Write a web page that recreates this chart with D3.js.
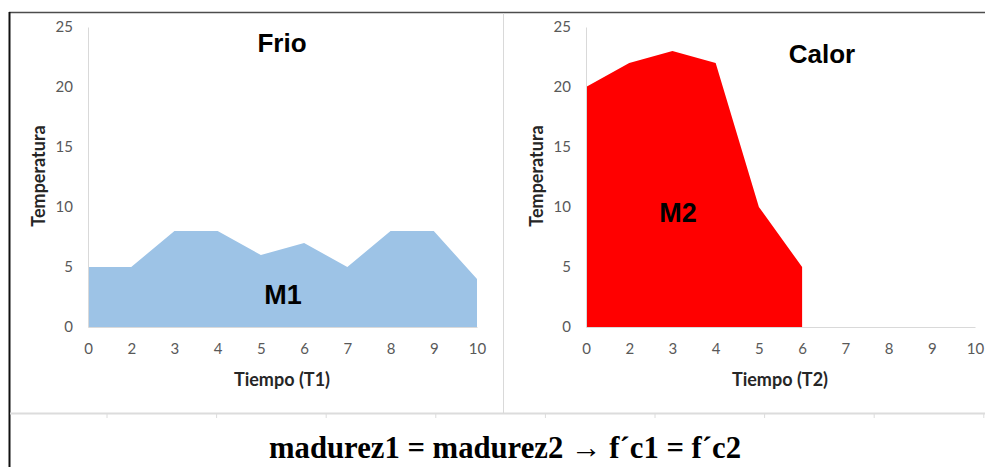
<!DOCTYPE html>
<html>
<head>
<meta charset="utf-8">
<script src="https://cdn.jsdelivr.net/npm/d3@7"></script>
<style>
  body { margin: 0; background: #fff; }
  .tick text { font-family: Lato, "Open Sans", sans-serif; font-size: 15px; fill: #595959; }
  .axtitle { font-family: Lato, "Open Sans", sans-serif; font-size: 18px; font-weight: bold; fill: #262626; }
  .big { font-family: "Liberation Sans", Arial, sans-serif; font-weight: bold; fill: #000; }
</style>
</head>
<body>
<script>
// datos
var tiempo = ['0', '2', '3', '4', '5', '6', '7', '8', '9', '10'];
var tempFrio = [5, 5, 8, 8, 6, 7, 5, 8, 8, 4];
var tempCalor = [20, 22, 23, 22, 10, 5, null, null, null, null];
var yTicks = [0, 5, 10, 15, 20, 25];
var formula = 'madurez1 = madurez2  \u2192 f\u00b4c1 = f\u00b4c2';

var svg = d3.select("body").append("svg").attr("width", 985).attr("height", 467);

// marco
svg.append("line").attr("x1", 9).attr("x2", 985).attr("y1", 12.5).attr("y2", 12.5)
      .attr("stroke", "#4d4d4d").attr("stroke-width", 1.5);
svg.append("line").attr("x1", 9.5).attr("x2", 9.5).attr("y1", 12).attr("y2", 467)
      .attr("stroke", "#111").attr("stroke-width", 2);
svg.append("line").attr("x1", 10).attr("x2", 985).attr("y1", 413.5).attr("y2", 413.5)
      .attr("stroke", "#dcdcdc").attr("stroke-width", 2);
svg.append("line").attr("x1", 503.5).attr("x2", 503.5).attr("y1", 13).attr("y2", 413)
      .attr("stroke", "#d9d9d9").attr("stroke-width", 1);
for (var k = 0; k < 9; k++) {
  var tx = 107 + k * 109.6;
  svg.append("line").attr("x1", tx).attr("x2", tx).attr("y1", 414).attr("y2", 418)
        .attr("stroke", "#dcdcdc").attr("stroke-width", 1);
}

var y = d3.scaleLinear().domain([0, 25]).range([327, 27]);

function panel(x0, x1, values, color, titulo, titlePos, marca, marcaPos, xTitle) {
  var x = d3.scalePoint().domain(tiempo).range([x0, x1]);
  var g = svg.append("g");
  var data = tiempo.map(function (t, i) { return { t: t, v: values[i] }; });

  var area = d3.area()
        .defined(function (d) { return d.v != null; })
        .x(function (d) { return x(d.t); })
        .y0(y(0))
        .y1(function (d) { return y(d.v); });

  g.append("path").datum(data).attr("d", area).attr("fill", color);

  var yAxis = d3.axisLeft(y).tickValues(yTicks).tickSize(0).tickPadding(15);
  var ya = g.append("g").attr("transform", "translate(" + x0 + ",0)").call(yAxis);
  ya.select(".domain").attr("stroke", "#d9d9d9");

  var xAxis = d3.axisBottom(x).tickSize(0).tickPadding(16);
  var xa = g.append("g").attr("transform", "translate(0," + y(0) + ")").call(xAxis);
  xa.select(".domain").attr("stroke", "#d9d9d9");
  g.selectAll(".tick text").attr("font-family", null).attr("font-size", null);

  g.append("text").attr("class", "big").attr("font-size", 26)
        .attr("x", titlePos[0]).attr("y", titlePos[1]).attr("text-anchor", "middle").text(titulo);
  g.append("text").attr("class", "big").attr("font-size", 27)
        .attr("x", marcaPos[0]).attr("y", marcaPos[1]).attr("text-anchor", "middle").text(marca);

  g.append("text").attr("class", "axtitle").attr("text-anchor", "middle")
        .attr("x", (x0 + x1) / 2 - 0.5).attr("y", 386).text(xTitle);
  g.append("text").attr("class", "axtitle").attr("text-anchor", "middle")
        .attr("transform", "translate(" + (x0 - 43) + ",176) rotate(-90)").text("Temperatura");
}

panel(88, 477, tempFrio, "#9dc3e6", "Frio", [282, 52], "M1", [283, 304], "Tiempo (T1)");
panel(586, 975, tempCalor, "#ff0000", "Calor", [822, 63], "M2", [678, 222], "Tiempo (T2)");

svg.append("text")
      .attr("x", 505).attr("y", 458)
      .attr("text-anchor", "middle")
      .attr("font-family", "'Liberation Serif', 'DejaVu Serif', serif")
      .attr("font-weight", "bold")
      .attr("font-size", 31)
      .attr("textLength", 472)
      .attr("lengthAdjust", "spacingAndGlyphs")
      .text(formula);
</script>
</body>
</html>
